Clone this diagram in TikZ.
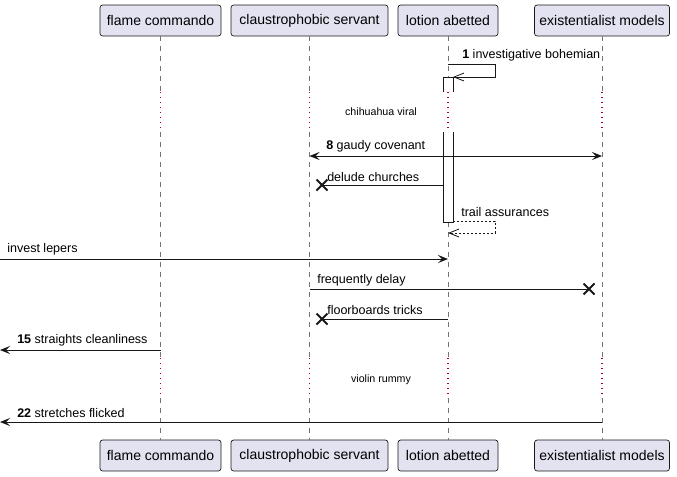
\documentclass[tikz,border=0pt]{standalone}
\usepackage{fontspec}
\setmainfont{Liberation Sans}
\usetikzlibrary{arrows.meta, shapes.misc}
\definecolor{partfill}{HTML}{E2E2F0}
\definecolor{partline}{HTML}{181818}
\definecolor{delayred}{HTML}{A80036}
\tikzset{
    part/.style={draw=partline, fill=partfill, rounded corners=2pt, minimum height=23.25pt, inner sep=0pt, line width=0.5pt, font=\fontsize{10.5}{12}\selectfont},
    lifeline/.style={draw=gray!90!black, dash pattern=on 3.75pt off 3.75pt, line width=0.5pt},
    lifedelay/.style={draw=delayred, dash pattern=on 1.1pt off 2.65pt, line width=1pt},
    msg/.style={partline, line width=0.75pt, -{Stealth[length=7.5pt,width=6pt,inset=3pt]}},
    bimsg/.style={partline, line width=0.75pt, {Stealth[length=7.5pt,width=6pt,inset=3pt]}-{Stealth[length=7.5pt,width=6pt,inset=3pt]}},
    openmsg/.style={partline, line width=0.75pt, -{Straight Barb[length=7.5pt,width=6pt,line width=0.6pt]}},
    retmsg/.style={openmsg, dash pattern=on 1.5pt off 1.5pt},
    killmsg/.style={partline, line width=0.75pt},
    xmark/.style={cross out, draw=partline, line width=1.5pt, minimum size=6.75pt, inner sep=0pt},
    lbl/.style={anchor=west, inner sep=0pt, font=\fontsize{9.4}{11}\selectfont},
    delaytxt/.style={inner sep=0pt, font=\fontsize{8}{10}\selectfont},
    act/.style={draw=partline, line width=0.75pt}
}
\begin{document}
\begin{tikzpicture}[x=0.75pt, y=-0.75pt]
    \useasboundingbox (0,0) rectangle (677,476);
    % participants, top and bottom
    \node[part, minimum width=90.75pt]  (flameT)   at (160.5,20.5) {flame commando};
    \node[part, minimum width=117.75pt] (servantT) at (309.5,20.5) {claustrophobic servant};
    \node[part, minimum width=75pt]     (lotionT)  at (448,20.5)   {lotion abetted};
    \node[part, minimum width=101.25pt] (existT)   at (602,20.5)   {existentialist models};
    \node[part, minimum width=90.75pt]  (flameB)   at (160.5,455.5) {flame commando};
    \node[part, minimum width=117.75pt] (servantB) at (309.5,455.5) {claustrophobic servant};
    \node[part, minimum width=75pt]     (lotionB)  at (448,455.5)   {lotion abetted};
    \node[part, minimum width=101.25pt] (existB)   at (602,455.5)   {existentialist models};

    % lifelines, dotted where the delays are
    \foreach \p in {flame, servant, lotion, exist} {
        \draw[lifeline]  (\p T.south) -- (\p T |- 0,91);
        \draw[lifedelay] (\p T |- 0,92) -- (\p T |- 0,132);
        \draw[lifeline]  (\p T |- 0,132) -- (\p T |- 0,357);
        \draw[lifedelay] (\p T |- 0,358) -- (\p T |- 0,398);
        \draw[lifeline]  (\p T |- 0,398) -- (\p B.north);
    }

    % activation of lotion abetted
    \fill[white] (443,77) rectangle (453,92);
    \draw[act] (443,92) -- (443,77) -- (453,77) -- (453,92);
    \fill[white] (443,132) rectangle (453,222);
    \draw[act] (443,132) -- (443,222) -- (453,222) -- (453,132);

    \coordinate (SelfA)   at (448,64);
    \coordinate (SelfB)   at (453,77);
    \coordinate (GaudyA)  at (309.5,156);
    \coordinate (GaudyB)  at (602,156);
    \coordinate (DeludeA) at (443,185);
    \coordinate (TrailA)  at (453,221);
    \coordinate (TrailB)  at (448,233);
    \coordinate (LepersA) at (0,259);
    \coordinate (LepersB) at (448,259);
    \coordinate (FreqA)   at (309.5,289);
    \coordinate (FloorA)  at (448,319);
    \coordinate (StraitA) at (160.5,350);
    \coordinate (StraitB) at (0,350);
    \coordinate (StretA)  at (602,422);
    \coordinate (StretB)  at (0,422);

    \draw[openmsg] (SelfA) -- ++(47,0) |- (SelfB);
    \node[lbl] (lblSelf) at (462,55) {\textbf{1} investigative bohemian};

    \node[delaytxt] (delayA) at (381,112) {chihuahua viral};

    \draw[bimsg] (GaudyA) -- (GaudyB);
    \node[lbl] (lblGaudy) at (326,146) {\textbf{8} gaudy covenant};

    \node[xmark] (xDelude) at (322,185) {};
    \draw[killmsg] (DeludeA) -- (xDelude.center);
    \node[lbl] (lblDelude) at (327,177) {delude churches};

    \draw[retmsg] (TrailA) -- ++(42,0) |- (TrailB);
    \node[lbl] (lblTrail) at (461,212) {trail assurances};

    \draw[msg] (LepersA) -- (LepersB);
    \node[lbl] (lblLepers) at (7,249) {invest lepers};

    \node[xmark] (xFreq) at (589,289) {};
    \draw[killmsg] (FreqA) -- (xFreq.center);
    \node[lbl] (lblFreq) at (317,280) {frequently delay};

    \node[xmark] (xFloor) at (322,319) {};
    \draw[killmsg] (FloorA) -- (xFloor.center);
    \node[lbl] (lblFloor) at (327,310) {floorboards tricks};

    \draw[msg] (StraitA) -- (StraitB);
    \node[lbl] (lblStrait) at (17,340) {\textbf{15} straights cleanliness};

    \node[delaytxt] (delayB) at (381,380) {violin rummy};

    \draw[msg] (StretA) -- (StretB);
    \node[lbl] (lblStret) at (17,413) {\textbf{22} stretches flicked};
\end{tikzpicture}
\end{document}
